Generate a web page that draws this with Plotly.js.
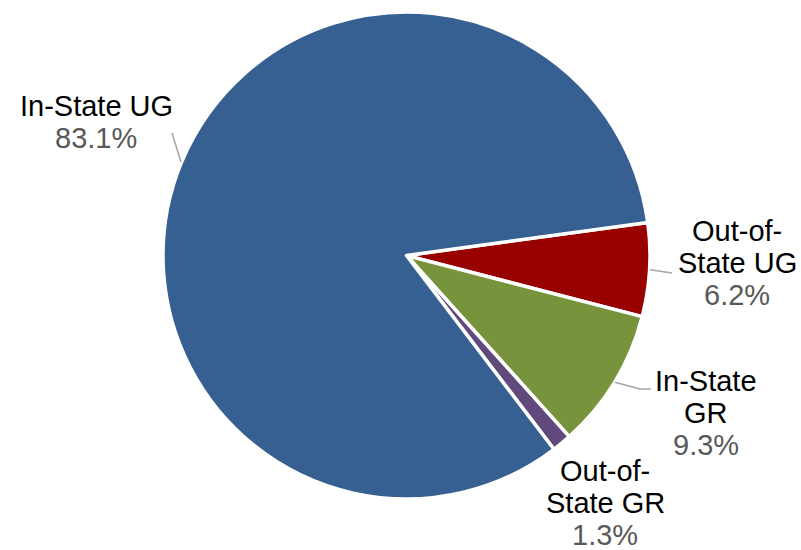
<!DOCTYPE html>
<html><head><meta charset="utf-8">
<script src="https://cdn.plot.ly/plotly-3.0.1.min.js"></script>
<style>html,body{margin:0;padding:0;background:#fff}#chart{width:801px;height:550px}</style>
</head><body><div id="chart"></div>
<script>
// ---- data ----
const categories = ['Out-of-State UG', 'In-State GR', 'Out-of-State GR', 'In-State UG'];
const shares = [6.2, 9.3, 1.3, 83.1];
const labelLines = [['Out-of-', 'State UG'], ['In-State', 'GR'], ['Out-of-', 'State GR'], ['In-State UG']];
const sliceColors = ['#990000', '#77933C', '#604A7B', '#376092'];

// ---- geometry / style ----
const W = 801, H = 550;
const M = {l: 163, r: 151, t: 12, b: 51};
const PW = W - M.l - M.r, PH = H - M.t - M.b;
const CX = M.l + PW / 2, CY = M.t + PH / 2, R = Math.min(PW, PH) / 2 - 1.5;
const START = 82.2;
const FONT = 'Liberation Sans, Arial, sans-serif';
const FS = 29, LINE = 32;
// label block: center x, middle y of first line (pixels)
const labelPos = [[737, 231], [706, 381], [605, 471], [96, 106]];
// leader line waypoints after the slice edge point (pixels)
const leaderWay = [[[672, 273]], [[640, 389], [651, 389]], null, [[172, 133]]];

const px = v => (v - M.l) / PW;
const py = v => 1 - (v - M.t) / PH;

const total = shares.reduce((a, b) => a + b, 0);
const annotations = [];
const shapes = [];
let cum = 0;
shares.forEach((s, i) => {
  const mid = START + (cum + s / 2) / total * 360;
  cum += s;
  const a = mid * Math.PI / 180;
  const ex = CX + (R + 2) * Math.sin(a), ey = CY - (R + 2) * Math.cos(a);
  const [lx, ly] = labelPos[i];
  const lines = labelLines[i].map(t => ({t, c: '#000000'}));
  lines.push({t: s.toFixed(1) + '%', c: '#595959'});
  lines.forEach((ln, k) => {
    annotations.push({
      xref: 'paper', yref: 'paper', x: px(lx), y: py(ly + k * LINE),
      xanchor: 'center', yanchor: 'middle', showarrow: false,
      text: ln.t, font: {family: FONT, size: FS, color: ln.c}
    });
  });
  if (leaderWay[i]) {
    let path = 'M' + px(ex) + ',' + py(ey);
    leaderWay[i].forEach(p => { path += ' L' + px(p[0]) + ',' + py(p[1]); });
    shapes.push({type: 'path', xref: 'paper', yref: 'paper', path,
      line: {color: '#A6A6A6', width: 1.5}});
  }
});

const trace = {
  type: 'pie',
  labels: categories,
  values: shares,
  sort: false,
  direction: 'clockwise',
  rotation: START,
  textinfo: 'none',
  hoverinfo: 'label+percent',
  marker: {colors: sliceColors, line: {color: '#FFFFFF', width: 3.5}},
  automargin: false,
  domain: {x: [0, 1], y: [0, 1]}
};

Plotly.newPlot('chart', [trace], {
  width: W, height: H,
  margin: M,
  showlegend: false,
  paper_bgcolor: '#FFFFFF',
  font: {family: FONT},
  annotations, shapes
}, {displayModeBar: false, staticPlot: true});
</script>
</body></html>
